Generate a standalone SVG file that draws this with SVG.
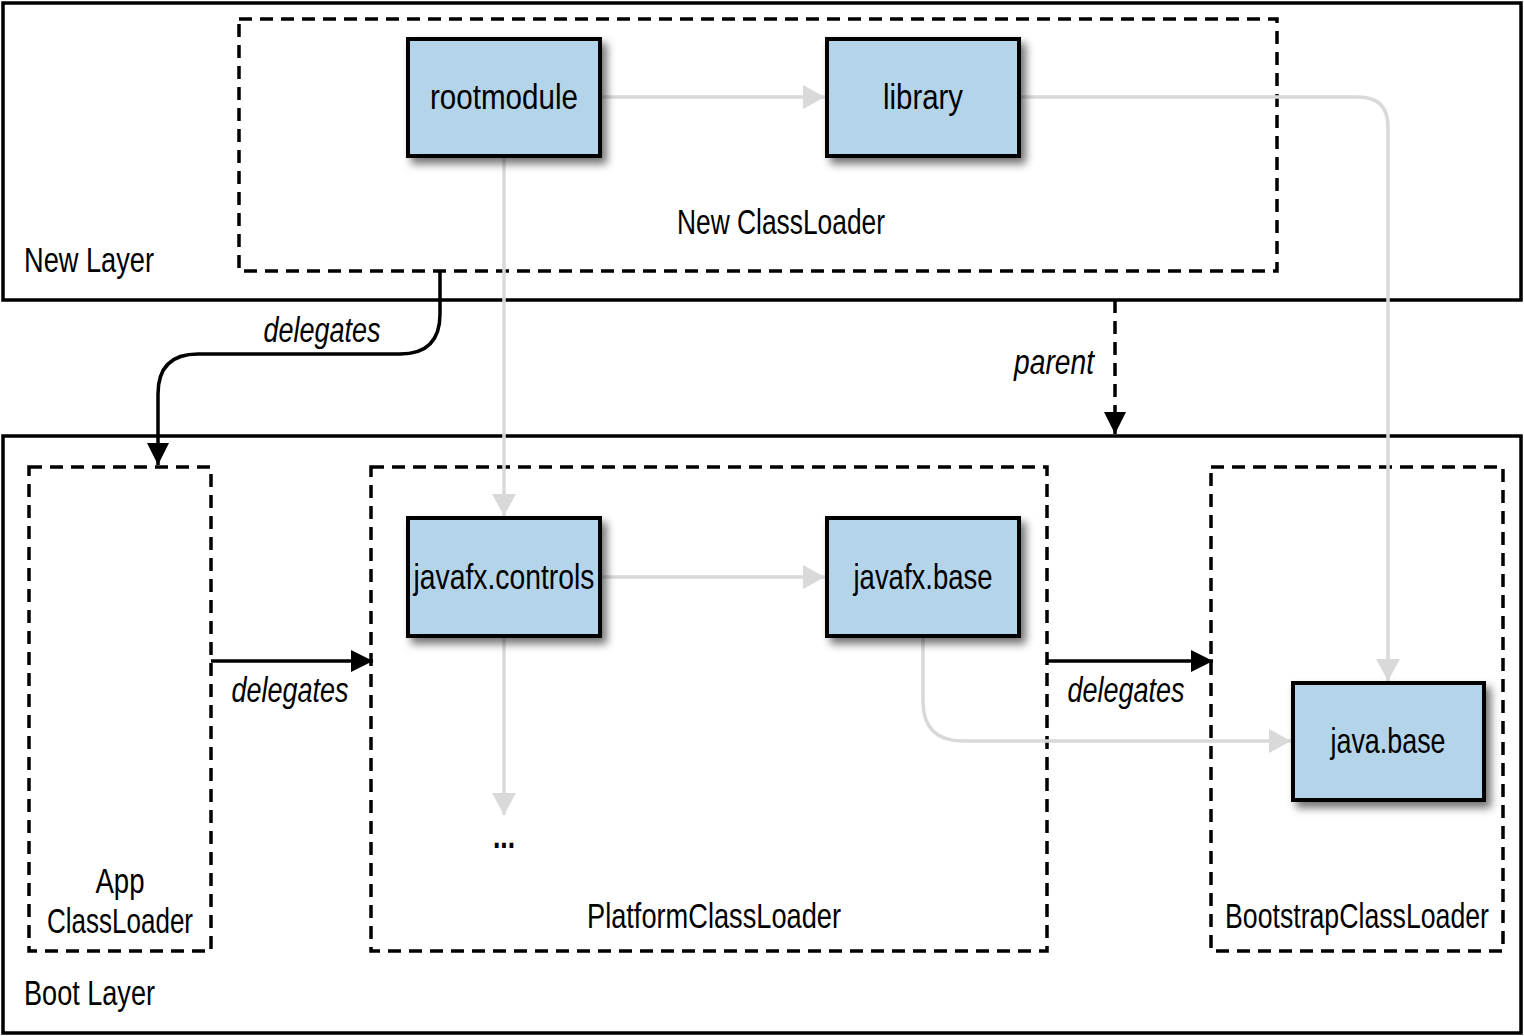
<svg xmlns="http://www.w3.org/2000/svg" width="1524" height="1036" viewBox="0 0 1524 1036">
<style>
text{font-family:"Liberation Sans",Arial,sans-serif;fill:#000;font-size:35px}
.mid{text-anchor:middle}
.it{font-style:italic}
.layer{fill:none;stroke:#000;stroke-width:3.5}
.cl{fill:none;stroke:#000;stroke-width:3.5;stroke-dasharray:13 8}
.node{fill:#b4d4ea;stroke:#000;stroke-width:4}
.g{fill:none;stroke:#d9d9d9;stroke-width:3.5}
.b{fill:none;stroke:#000;stroke-width:3.5}
</style>
<defs>
<filter id="sh" x="-20%" y="-20%" width="150%" height="150%">
<feDropShadow dx="5" dy="6" stdDeviation="4" flood-color="#000" flood-opacity="0.55"/>
</filter>
<marker id="ag" markerUnits="userSpaceOnUse" markerWidth="26" markerHeight="26" viewBox="0 0 24 26" refX="22" refY="13" orient="auto">
<path d="M0,1 L22,13 L0,25 Z" fill="#d9d9d9"/>
</marker>
<marker id="ab" markerUnits="userSpaceOnUse" markerWidth="26" markerHeight="26" viewBox="0 0 24 26" refX="22" refY="13" orient="auto">
<path d="M0,2 L22,13 L0,24 Z" fill="#000"/>
</marker>
</defs>

<g id="new-layer">
<rect class="layer" x="3" y="3" width="1518" height="297"/>
<text x="24" y="272" textLength="130" lengthAdjust="spacingAndGlyphs">New Layer</text>
</g>
<g id="boot-layer">
<rect class="layer" x="3" y="436" width="1518" height="597"/>
<text x="24" y="1005" textLength="131" lengthAdjust="spacingAndGlyphs">Boot Layer</text>
</g>

<g id="new-classloader">
<rect class="cl" x="239" y="19" width="1038" height="252"/>
<text class="mid" x="781" y="234" textLength="208" lengthAdjust="spacingAndGlyphs">New ClassLoader</text>
</g>
<g id="app-classloader">
<rect class="cl" x="29" y="467" width="182" height="484"/>
<text class="mid" x="120" y="893" textLength="49" lengthAdjust="spacingAndGlyphs">App</text>
<text class="mid" x="120" y="933" textLength="146" lengthAdjust="spacingAndGlyphs">ClassLoader</text>
</g>
<g id="platform-classloader">
<rect class="cl" x="371" y="467" width="676" height="484"/>
<text class="mid" x="714" y="928" textLength="254" lengthAdjust="spacingAndGlyphs">PlatformClassLoader</text>
</g>
<g id="bootstrap-classloader">
<rect class="cl" x="1211" y="467" width="292" height="484"/>
<text class="mid" x="1357" y="928" textLength="264" lengthAdjust="spacingAndGlyphs">BootstrapClassLoader</text>
</g>

<g id="connectors">
<path class="g" d="M600,97 H825" marker-end="url(#ag)"/>
<path class="g" d="M1019,97 H1358 Q1388,97 1388,127 V681" marker-end="url(#ag)"/>
<path class="g" d="M504,156 V516" marker-end="url(#ag)"/>
<path class="g" d="M600,577 H825" marker-end="url(#ag)"/>
<path class="g" d="M504,636 V815" marker-end="url(#ag)"/>
<path class="g" d="M923,636 V701 Q923,741 963,741 H1291" marker-end="url(#ag)"/>
<path class="b" d="M440,271 V314 Q440,354 400,354 H198 Q158,354 158,394 V465" marker-end="url(#ab)"/>
<path class="b" d="M211,661 H373" marker-end="url(#ab)"/>
<path class="b" d="M1047,661 H1213" marker-end="url(#ab)"/>
<path class="b" d="M1115,300 V434" stroke-dasharray="13 8" marker-end="url(#ab)"/>
<text class="it mid" x="322" y="342" textLength="117" lengthAdjust="spacingAndGlyphs">delegates</text>
<text class="it" x="1014" y="374" textLength="80" lengthAdjust="spacingAndGlyphs">parent</text>
<text class="it mid" x="290" y="702" textLength="117" lengthAdjust="spacingAndGlyphs">delegates</text>
<text class="it mid" x="1126" y="702" textLength="117" lengthAdjust="spacingAndGlyphs">delegates</text>
<text class="mid" x="504" y="848" textLength="22" lengthAdjust="spacingAndGlyphs" font-weight="bold">...</text>
</g>

<g id="rootmodule">
<rect class="node" x="408" y="39" width="192" height="117" filter="url(#sh)"/>
<text class="mid" x="504" y="109" textLength="148" lengthAdjust="spacingAndGlyphs">rootmodule</text>
</g>
<g id="library">
<rect class="node" x="827" y="39" width="192" height="117" filter="url(#sh)"/>
<text class="mid" x="923" y="109" textLength="80" lengthAdjust="spacingAndGlyphs">library</text>
</g>
<g id="javafx-controls">
<rect class="node" x="408" y="518" width="192" height="118" filter="url(#sh)"/>
<text class="mid" x="504" y="589" textLength="181" lengthAdjust="spacingAndGlyphs">javafx.controls</text>
</g>
<g id="javafx-base">
<rect class="node" x="827" y="518" width="192" height="118" filter="url(#sh)"/>
<text class="mid" x="923" y="589" textLength="139" lengthAdjust="spacingAndGlyphs">javafx.base</text>
</g>
<g id="java-base">
<rect class="node" x="1293" y="683" width="191" height="117" filter="url(#sh)"/>
<text class="mid" x="1388" y="753" textLength="115" lengthAdjust="spacingAndGlyphs">java.base</text>
</g>
</svg>
